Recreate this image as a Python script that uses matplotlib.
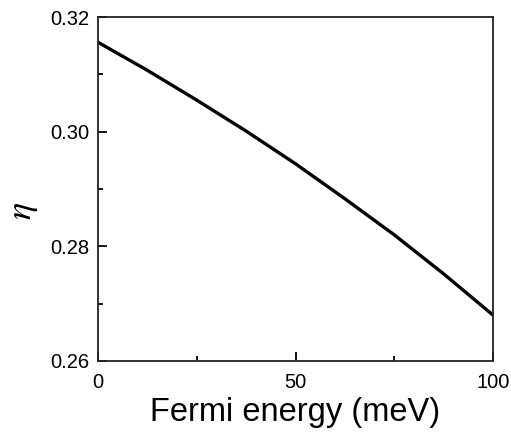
import numpy as np
import matplotlib.pyplot as plt
from matplotlib.ticker import MultipleLocator

plt.rcParams['font.family'] = ['Liberation Sans', 'DejaVu Sans']
plt.rcParams['mathtext.fontset'] = 'stix'

# values
fermi_energy = [0, 12.5, 25, 37.5, 50, 62.5, 75, 87.5, 100]
eta = [0.3156, 0.3107, 0.3055, 0.3001, 0.2944, 0.2883, 0.2820, 0.2752, 0.2680]

fig = plt.figure(figsize=(5.11, 4.32), dpi=100)
ax = fig.add_axes([0.1918, 0.1644, 0.7730, 0.7962])

ax.plot(fermi_energy, eta, color='black', lw=2.4)

ax.set_xlim(0, 100)
ax.set_ylim(0.26, 0.32)
ax.xaxis.set_major_locator(MultipleLocator(50))
ax.xaxis.set_minor_locator(MultipleLocator(25))
ax.yaxis.set_major_locator(MultipleLocator(0.02))
ax.yaxis.set_minor_locator(MultipleLocator(0.01))
ax.yaxis.set_major_formatter(plt.FormatStrFormatter('%.2f'))

ax.tick_params(which='both', direction='in', top=False, right=False, width=1.3, labelsize=14.5)
ax.tick_params(which='major', length=6.5)
ax.tick_params(which='minor', length=3.5)
ax.tick_params(axis='x', pad=9)
ax.tick_params(axis='y', pad=6)
for s in ax.spines.values():
    s.set_linewidth(1.3)
    s.set_color('#222222')

ax.set_xlabel('Fermi energy (meV)', fontsize=23.5, labelpad=3)
ax.set_ylabel(r'$\eta$', fontsize=26)
ax.yaxis.set_label_coords(-0.147, 0.436)

fig.savefig('out.png', dpi=100)
